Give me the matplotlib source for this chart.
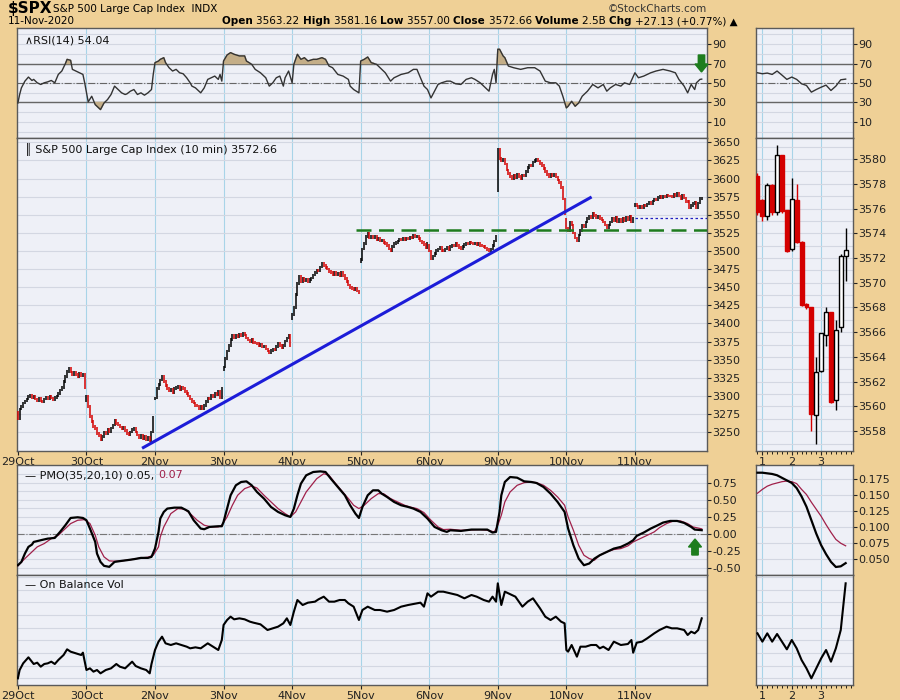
import matplotlib.pyplot as plt
import matplotlib.patches as mpatches
import numpy as np

# ---- 10-minute closes, one list per session (39 bars each) ----
c_29oct = [3268, 3282, 3285, 3290, 3293, 3296, 3299, 3301, 3298, 3300, 3296, 3294, 3297,
           3293, 3292, 3296, 3298, 3296, 3299, 3297, 3295, 3298, 3300, 3303, 3308, 3312,
           3320, 3327, 3334, 3338, 3333, 3330, 3333, 3330, 3327, 3331, 3328, 3330, 3312]
c_30oct = [3300, 3285, 3272, 3265, 3258, 3255, 3248, 3245, 3240, 3244, 3250, 3248, 3254,
           3251, 3256, 3260, 3266, 3262, 3260, 3257, 3255, 3257, 3252, 3248, 3246, 3250,
           3254, 3256, 3250, 3246, 3243, 3245, 3241, 3244, 3240, 3243, 3238, 3250, 3270]
c_2nov = [3297, 3310, 3316, 3322, 3327, 3320, 3314, 3310, 3307, 3309, 3305, 3310, 3312,
          3313, 3309, 3312, 3310, 3306, 3303, 3300, 3296, 3292, 3290, 3287, 3286, 3283,
          3285, 3282, 3287, 3292, 3297, 3296, 3301, 3299, 3304, 3302, 3306, 3298, 3310]
c_3nov = [3340, 3352, 3362, 3370, 3378, 3383, 3380, 3384, 3382, 3385, 3383, 3386, 3384,
          3380, 3377, 3375, 3378, 3374, 3373, 3372, 3370, 3371, 3368, 3369, 3365, 3362,
          3359, 3363, 3365, 3364, 3368, 3373, 3370, 3366, 3370, 3376, 3380, 3384, 3369]
c_4nov = [3412, 3422, 3440, 3455, 3465, 3458, 3462, 3459, 3461, 3458, 3461, 3463, 3467,
          3470, 3474, 3473, 3478, 3483, 3480, 3477, 3475, 3472, 3470, 3468, 3470, 3467,
          3469, 3466, 3470, 3466, 3462, 3458, 3453, 3450, 3448, 3446, 3449, 3445, 3443]
c_5nov = [3488, 3503, 3510, 3520, 3525, 3519, 3521, 3518, 3520, 3516, 3517, 3514, 3515,
          3512, 3510, 3508, 3503, 3501, 3506, 3510, 3512, 3514, 3516, 3515, 3517, 3516,
          3518, 3517, 3519, 3518, 3522, 3520, 3521, 3517, 3514, 3512, 3509, 3505, 3510]
c_6nov = [3500, 3490, 3493, 3497, 3501, 3503, 3505, 3501, 3500, 3503, 3505, 3502, 3506,
          3508, 3507, 3510, 3508, 3505, 3503, 3506, 3509, 3511, 3510, 3512, 3511, 3510,
          3511, 3509, 3510, 3508, 3507, 3506, 3504, 3502, 3500, 3503, 3508, 3514, 3520]
c_9nov = [3640, 3628, 3624, 3627, 3620, 3612, 3607, 3603, 3600, 3604, 3601, 3606, 3603,
          3600, 3605, 3604, 3610, 3615, 3619, 3618, 3623, 3625, 3627, 3624, 3621, 3618,
          3614, 3610, 3606, 3603, 3606, 3604, 3606, 3602, 3598, 3595, 3588, 3572, 3551]
c_10nov = [3532, 3528, 3540, 3536, 3525, 3518, 3514, 3522, 3528, 3535, 3533, 3540, 3545,
           3548, 3546, 3552, 3549, 3546, 3548, 3545, 3543, 3540, 3536, 3532, 3536, 3540,
           3545, 3542, 3546, 3541, 3544, 3540, 3545, 3542, 3546, 3543, 3548, 3541, 3545.5]
c_11nov = [3565, 3562, 3560, 3562, 3560, 3563, 3562, 3565, 3567, 3566, 3569, 3572, 3571,
           3574, 3575, 3574, 3576, 3575, 3577, 3576, 3575.7, 3575.4, 3577.9, 3575.7, 3580.3,
           3575.8, 3572.6, 3576.8, 3573.3, 3568.2, 3568.0, 3559.4, 3562.8, 3565.9, 3567.6,
           3560.4, 3566.2, 3572.2, 3572.66]
day_open = [3277.2, 3293.0, 3296.2, 3336.3, 3406.5, 3485.7, 3508.3, 3583.0, 3543.3, 3563.2]
day_labels = ['29Oct', '30Oct', '2Nov', '3Nov', '4Nov', '5Nov', '6Nov', '9Nov', '10Nov', '11Nov']

# ---- RSI(14) (bar index, value) ----
rsi_bar = [0, 1, 2, 4, 6, 8, 9, 11, 13, 15, 17, 19, 21, 23, 25, 27, 28, 30, 31, 33, 35, 37, 38,
           40, 42, 44, 45, 47, 49, 51, 53, 55, 57, 59, 61, 62, 64, 66, 68, 70, 72, 74, 76, 77,
           78, 80, 81, 83, 84, 86, 88, 90, 92, 94, 96, 98, 99, 101, 104, 106, 108, 110, 112,
           114, 115, 116, 117, 119, 121, 123, 126, 129, 130, 133, 135, 138, 141, 143, 145,
           147, 149, 151, 152, 154, 156, 157, 159, 161, 163, 165, 168, 170, 173, 175, 177,
           179, 182, 185, 188, 189, 191, 194, 195, 197, 199, 201, 204, 206, 209, 212, 214,
           218, 222, 225, 227, 229, 231, 233, 235, 237, 239, 241, 244, 246, 249, 252, 255,
           258, 260, 263, 266, 268, 270, 271, 272, 273, 274, 276, 277, 279, 282, 286, 290,
           294, 297, 300, 303, 306, 308, 310, 312, 313, 315, 317, 319, 321, 324, 327, 330,
           333, 335, 337, 340, 343, 345, 348, 351, 353, 356, 360, 363, 367, 371, 374, 376,
           379, 381, 383, 385, 386, 388, 389]
rsi_val = [29.5, 38.2, 45.0, 51.9, 56.1, 52.6, 53.7, 50.2, 48.5, 50.2, 51.2, 52.6, 50.2, 58.8,
           62.3, 69.8, 74.3, 73.3, 64.0, 62.3, 60.5, 58.8, 50.2, 30.6, 36.4, 27.8, 26.1, 22.7,
           29.5, 33.0, 38.2, 46.8, 43.3, 39.9, 38.2, 38.8, 41.6, 43.3, 38.2, 39.9, 37.5, 39.9,
           43.3, 58.8, 70.9, 72.6, 74.3, 76.0, 70.9, 65.7, 62.3, 64.0, 60.5, 59.5, 55.4, 50.2,
           46.8, 45.0, 39.9, 45.0, 53.7, 55.4, 57.1, 53.7, 58.8, 51.9, 72.6, 78.8, 81.2, 79.5,
           77.8, 77.8, 72.6, 69.2, 64.0, 60.5, 55.4, 46.8, 50.2, 55.4, 57.1, 46.8, 55.4, 62.3,
           50.2, 69.2, 79.5, 74.3, 76.0, 72.6, 74.3, 74.3, 76.0, 74.3, 67.4, 65.7, 58.8, 57.1,
           53.7, 46.8, 43.3, 39.9, 72.6, 74.3, 76.7, 70.9, 69.2, 65.7, 60.5, 51.9, 55.4, 58.8,
           60.5, 64.0, 64.0, 55.4, 46.8, 43.3, 34.7, 41.6, 48.5, 50.2, 51.9, 51.9, 49.2, 48.5,
           53.7, 55.4, 53.7, 50.2, 45.0, 41.6, 58.8, 64.0, 50.2, 84.7, 84.7, 77.8, 76.0, 67.4,
           65.7, 64.0, 65.7, 65.7, 62.3, 51.9, 50.2, 50.2, 46.8, 36.4, 24.4, 26.1, 31.3, 26.1,
           29.5, 36.4, 41.6, 48.5, 45.0, 48.5, 41.6, 45.0, 48.5, 46.8, 50.2, 48.5, 60.5, 55.4,
           57.1, 60.5, 62.3, 64.0, 62.3, 60.5, 53.7, 46.8, 39.9, 48.5, 43.3, 50.2, 53.7, 54.0]

# ---- PMO(35,20,10) line and signal ----
pmo_bar = [0, 2, 4, 6, 8, 9, 13, 17, 21, 24, 27, 30, 34, 37, 39, 41, 44, 45, 47, 49, 52, 55, 59,
           62, 66, 70, 74, 76, 78, 80, 81, 83, 85, 89, 93, 97, 100, 104, 106, 109, 114, 116,
           117, 119, 121, 124, 127, 130, 133, 136, 140, 144, 148, 152, 155, 157, 159, 161, 164,
           168, 172, 175, 178, 182, 186, 189, 192, 194, 196, 199, 202, 205, 207, 210, 214,
           218, 222, 225, 229, 233, 237, 241, 244, 246, 252, 258, 263, 267, 270, 272, 274,
           275, 277, 280, 284, 288, 292, 295, 299, 303, 307, 311, 313, 316, 319, 322, 325,
           328, 331, 335, 339, 343, 347, 350, 352, 356, 360, 364, 367, 371, 375, 379, 383,
           385, 389]
pmo_val = [-0.466, -0.417, -0.294, -0.196, -0.162, -0.123, -0.098, -0.074, -0.064, 0.025, 0.123,
           0.230, 0.240, 0.230, 0.196, 0.074, -0.123, -0.294, -0.417, -0.475, -0.490, -0.417,
           -0.402, -0.392, -0.377, -0.358, -0.358, -0.343, -0.221, 0.025, 0.221, 0.319, 0.368,
           0.382, 0.382, 0.328, 0.196, 0.074, 0.064, 0.098, 0.108, 0.108, 0.172, 0.368, 0.564,
           0.711, 0.760, 0.769, 0.711, 0.613, 0.515, 0.392, 0.319, 0.270, 0.245, 0.368, 0.564,
           0.735, 0.858, 0.907, 0.916, 0.907, 0.809, 0.686, 0.564, 0.417, 0.294, 0.230, 0.392,
           0.564, 0.637, 0.637, 0.588, 0.539, 0.466, 0.417, 0.392, 0.368, 0.319, 0.221, 0.098,
           0.049, 0.025, 0.049, 0.039, 0.059, 0.059, 0.059, 0.015, 0.025, 0.319, 0.564, 0.760,
           0.833, 0.823, 0.769, 0.760, 0.745, 0.686, 0.588, 0.466, 0.319, 0.074, -0.172, -0.368,
           -0.466, -0.441, -0.368, -0.319, -0.270, -0.221, -0.196, -0.147, -0.098, -0.034,
           0.015, 0.074, 0.123, 0.162, 0.186, 0.186, 0.157, 0.098, 0.059, 0.05]
sig_bar = [0, 4, 8, 11, 15, 19, 23, 27, 30, 34, 38, 41, 44, 46, 49, 52, 55, 59, 62, 66, 70, 74,
           77, 80, 81, 83, 87, 91, 95, 98, 102, 106, 110, 114, 116, 119, 122, 125, 129, 133,
           136, 140, 144, 148, 152, 155, 158, 161, 164, 167, 170, 174, 177, 180, 184, 188, 191,
           194, 197, 201, 205, 208, 212, 216, 220, 223, 227, 231, 235, 239, 242, 246, 252, 258,
           263, 267, 271, 273, 275, 277, 280, 284, 288, 292, 295, 299, 303, 307, 311, 313, 316,
           319, 322, 325, 328, 331, 335, 339, 343, 347, 350, 354, 358, 362, 365, 369, 373, 377,
           381, 384, 389]
sig_val = [-0.475, -0.368, -0.270, -0.196, -0.147, -0.074, -0.025, 0.074, 0.147, 0.196, 0.206,
           0.147, -0.025, -0.196, -0.343, -0.402, -0.407, -0.402, -0.392, -0.377, -0.358,
           -0.348, -0.319, -0.196, -0.049, 0.098, 0.294, 0.368, 0.358, 0.294, 0.196, 0.123,
           0.098, 0.098, 0.123, 0.245, 0.417, 0.564, 0.662, 0.701, 0.671, 0.564, 0.466, 0.368,
           0.294, 0.245, 0.319, 0.466, 0.613, 0.711, 0.809, 0.882, 0.858, 0.760, 0.637, 0.515,
           0.417, 0.368, 0.417, 0.515, 0.588, 0.588, 0.515, 0.466, 0.417, 0.392, 0.368, 0.309,
           0.196, 0.098, 0.059, 0.064, 0.049, 0.054, 0.059, 0.049, 0.025, 0.123, 0.270, 0.466,
           0.613, 0.711, 0.750, 0.760, 0.750, 0.711, 0.637, 0.539, 0.417, 0.245, 0.049, -0.172,
           -0.319, -0.368, -0.392, -0.319, -0.270, -0.235, -0.221, -0.181, -0.123, -0.074,
           -0.025, 0.025, 0.088, 0.147, 0.186, 0.186, 0.147, 0.098, 0.07]

# ---- On Balance Volume (relative units, no scale shown) ----
obv_bar = [0, 1, 3, 6, 8, 9, 11, 13, 15, 17, 19, 21, 23, 26, 28, 30, 33, 36, 37, 39, 41, 43, 45,
           47, 50, 53, 56, 58, 61, 62, 65, 67, 70, 73, 75, 76, 78, 80, 82, 84, 87, 90, 93, 96,
           98, 101, 104, 108, 111, 114, 116, 117, 119, 121, 123, 126, 129, 132, 134, 138, 142,
           145, 148, 151, 153, 155, 157, 159, 162, 165, 169, 171, 174, 177, 180, 183, 186, 188,
           191, 194, 196, 199, 203, 206, 210, 214, 218, 222, 225, 229, 231, 233, 235, 239, 242,
           246, 250, 254, 258, 261, 265, 268, 270, 272, 273, 275, 277, 279, 283, 287, 290, 293,
           297, 300, 303, 306, 309, 311, 312, 313, 315, 318, 320, 323, 326, 329, 331, 333, 336,
           339, 343, 347, 349, 350, 352, 355, 358, 362, 365, 369, 372, 375, 379, 381, 383, 385,
           387, 389]
obv_val = [45, 70, 90, 108, 95, 88, 92, 80, 88, 90, 95, 88, 100, 115, 132, 125, 120, 115, 122, 70,
           75, 65, 70, 60, 70, 75, 88, 80, 75, 80, 95, 82, 75, 70, 60, 88, 130, 155, 170, 150,
           145, 150, 145, 140, 135, 138, 135, 150, 140, 130, 160, 205, 220, 230, 222, 225, 222,
           215, 212, 207, 190, 195, 200, 210, 225, 205, 245, 280, 265, 272, 275, 282, 290, 275,
           275, 280, 280, 270, 260, 220, 250, 260, 250, 250, 245, 250, 260, 265, 268, 272, 260,
           300, 290, 305, 305, 300, 295, 285, 295, 290, 280, 275, 290, 275, 330, 265, 305, 300,
           290, 260, 275, 285, 255, 230, 220, 230, 215, 210, 130, 125, 145, 110, 140, 140, 145,
           145, 135, 140, 130, 155, 145, 148, 160, 122, 152, 155, 165, 180, 190, 200, 195, 195,
           190, 175, 185, 180, 190, 225]

# ---- last 19 ten-minute candles of 11-Nov (12:50 - 15:50) ----
k_open = [3578.6, 3576.7, 3575.4, 3577.9, 3575.7, 3580.3, 3575.9, 3572.7, 3576.7, 3573.3,
          3568.3, 3568.0, 3559.3, 3562.9, 3565.8, 3567.6, 3560.5, 3566.4, 3572.2]
k_high = [3578.9, 3576.8, 3578.1, 3578.0, 3581.16, 3580.3, 3575.9, 3578.5, 3578.0, 3573.4,
          3568.4, 3568.0, 3564.0, 3565.9, 3568.0, 3567.6, 3567.0, 3572.3, 3574.4]
k_low = [3575.5, 3575.0, 3575.1, 3575.5, 3575.5, 3575.6, 3572.5, 3572.6, 3573.2, 3568.1,
         3567.9, 3558.0, 3557.0, 3562.8, 3564.9, 3560.3, 3559.7, 3566.0, 3570.15]
k_close = [3575.7, 3575.4, 3577.9, 3575.7, 3580.3, 3575.8, 3572.6, 3576.8, 3573.3, 3568.2,
           3568.0, 3559.4, 3562.8, 3565.9, 3567.6, 3560.4, 3566.2, 3572.2, 3572.66]
k_labels = ['1', '2', '3']
k_rsi = [60.5, 59.5, 60.2, 58.8, 62.3, 58.1, 53.7, 56.1, 53.7, 49.2, 47.5, 40.6, 43.3, 45.7,
         47.8, 42.3, 46.8, 53.3, 54.0]
k_pmo = [0.185, 0.185, 0.184, 0.183, 0.181, 0.177, 0.173, 0.169, 0.161, 0.148, 0.132, 0.111,
         0.090, 0.072, 0.058, 0.046, 0.038, 0.039, 0.044]
k_sig = [0.153, 0.159, 0.164, 0.167, 0.169, 0.171, 0.172, 0.171, 0.168, 0.159, 0.151, 0.139,
         0.128, 0.117, 0.104, 0.092, 0.081, 0.075, 0.071]
k_obv = [180, 155, 180, 155, 178, 155, 132, 160, 135, 100, 75, 45, 75, 105, 130, 95, 135, 190, 330]

# annotation levels drawn on the price panel
support = 3529
prev_close = 3545.5
trend_a = (71.4, 3228.8)
trend_b = (325.6, 3573.6)
green_start = 192.6

TAN = '#EFD096'
PANEL = '#EEF0F7'
GRID = '#D3D7E2'
VGRID = '#A8D4E8'
EDGE = '#5A5A5A'
RED = '#D40000'
MAROON = '#A0204A'
BARS_PER_DAY = 39
BAR_PAD = 1.8   # visual half-range added to each bar

plt.rcParams['font.family'] = ['DejaVu Sans']
fig = plt.figure(figsize=(9, 7), dpi=100, facecolor=TAN)
W, H = 900, 700


def add_panel(x0, y0, x1, y1):
    """Axes placed by pixel box (top-left origin)"""
    ax = fig.add_axes([x0 / W, 1 - y1 / H, (x1 - x0) / W, (y1 - y0) / H], facecolor=PANEL)
    for s in ax.spines.values():
        s.set_color(EDGE)
        s.set_linewidth(1)
    ax.yaxis.tick_right()
    ax.tick_params(axis='both', direction='out', length=3, labelsize=8, pad=1,
                   colors='#222222', width=0.8)
    return ax


def hgrid(ax, levels):
    for v in levels:
        ax.axhline(v, color=GRID, lw=0.8, zorder=0)


LX0, LX1, RX0, RX1 = 17, 707, 756, 853
ax_rsi = add_panel(LX0, 28, LX1, 138)
ax_px = add_panel(LX0, 138, LX1, 451)
ax_pmo = add_panel(LX0, 465, LX1, 575)
ax_obv = add_panel(LX0, 575, LX1, 685)
bx_rsi = add_panel(RX0, 28, RX1, 138)
bx_px = add_panel(RX0, 138, RX1, 451)
bx_pmo = add_panel(RX0, 465, RX1, 575)
bx_obv = add_panel(RX0, 575, RX1, 685)

closes = np.concatenate([c_29oct, c_30oct, c_2nov, c_3nov, c_4nov, c_5nov, c_6nov,
                         c_9nov, c_10nov, c_11nov]).astype(float)
n = len(closes)
xb = np.arange(n)
day_starts = np.arange(0, n, BARS_PER_DAY)
xlim = (-0.5, 392)
klim = (-0.3, 19.5)
kx = np.arange(len(k_close))
k_ticks = [1, 7, 13]

# day / hour grid lines
for ax in (ax_rsi, ax_px, ax_pmo, ax_obv):
    ax.set_xlim(*xlim)
    ax.set_xticks(day_starts)
    for d in day_starts[1:]:
        ax.axvline(d, color=VGRID, lw=0.8, zorder=0)
for ax in (bx_rsi, bx_px, bx_pmo, bx_obv):
    ax.set_xlim(*klim)
    ax.set_xticks(k_ticks)
    ax.set_xticks(np.arange(0, 20), minor=True)
    ax.tick_params(axis='x', which='minor', length=2, direction='out')
    for d in k_ticks:
        ax.axvline(d, color=VGRID, lw=0.8, zorder=0)

# ---- RSI ----
for ax, xs, ys in ((ax_rsi, rsi_bar, rsi_val), (bx_rsi, kx, k_rsi)):
    xs = np.asarray(xs, float)
    ys = np.asarray(ys, float)
    ax.set_ylim(-6.5, 106.5)
    ax.set_yticks([10, 30, 50, 70, 90])
    hgrid(ax, np.arange(0, 101, 10))
    ax.axhline(70, color='#666666', lw=1, zorder=1)
    ax.axhline(30, color='#666666', lw=1, zorder=1)
    ax.axhline(50, color='#666666', lw=0.8, ls='-.', zorder=1)
    ax.fill_between(xs, ys, 70, where=ys > 70, interpolate=True, color='#C4AE88', zorder=2)
    ax.fill_between(xs, ys, 30, where=ys < 30, interpolate=True, color='#C4AE88', zorder=2)
    ax.plot(xs, ys, color='#333333', lw=1, zorder=3)
    ax.tick_params(axis='x', labelbottom=False, length=0, which='both')
ax_rsi.text(0.012, 0.93, '\u2227RSI(14) 54.04', transform=ax_rsi.transAxes, fontsize=8,
            va='top', color='#111111')

# ---- price bars ----
ax_px.set_ylim(3224, 3656)
ax_px.set_yticks(np.arange(3250, 3651, 25))
hgrid(ax_px, np.arange(3250, 3651, 25))
prev = np.empty(n)
prev[1:] = closes[:-1]
prev[day_starts] = day_open
lo = np.minimum(prev, closes) - BAR_PAD
hi = np.maximum(prev, closes) + BAR_PAD
up = closes >= prev
ax_px.vlines(xb[up], lo[up], hi[up], color='black', lw=1.1, zorder=3)
ax_px.vlines(xb[~up], lo[~up], hi[~up], color=RED, lw=1.1, zorder=3)
ax_px.plot([trend_a[0], trend_b[0]], [trend_a[1], trend_b[1]], color='#1C1CD8', lw=2.2, zorder=4)
ax_px.plot([green_start, xlim[1]], [support, support], color='#1E7B1E', lw=1.8,
           dashes=(6, 3), zorder=4)
ax_px.plot([day_starts[-1], xlim[1]], [prev_close, prev_close], color='#2020C0', lw=0.9,
           dashes=(2, 2), zorder=4)
ax_px.set_xticklabels(day_labels)
ax_px.text(0.012, 0.985, '\u2551 S&P 500 Large Cap Index (10 min) 3572.66',
           transform=ax_px.transAxes, fontsize=8, va='top', color='#111111')

# right candles
bx_px.set_ylim(3556.4, 3581.7)
bx_px.set_yticks(np.arange(3558, 3581, 2))
hgrid(bx_px, np.arange(3557, 3582, 1))
for i in range(len(k_close)):
    rising = k_close[i] >= k_open[i]
    col = 'black' if rising else RED
    bx_px.vlines(kx[i], k_low[i], k_high[i], color=col, lw=1, zorder=3)
    b0 = min(k_open[i], k_close[i])
    bh = max(abs(k_close[i] - k_open[i]), 0.12)
    bx_px.add_patch(mpatches.Rectangle((kx[i] - 0.4, b0), 0.8, bh,
                                       facecolor='white' if rising else RED,
                                       edgecolor=col, lw=1, zorder=4))
bx_px.set_xticklabels(k_labels)

# ---- PMO ----
ax_pmo.set_ylim(-0.61, 1.01)
ax_pmo.set_yticks([-0.5, -0.25, 0, 0.25, 0.5, 0.75])
ax_pmo.set_yticklabels(['-0.50', '-0.25', '0.00', '0.25', '0.50', '0.75'])
hgrid(ax_pmo, np.arange(-0.5, 1.0, 0.125))
ax_pmo.axhline(0, color='#777777', lw=0.8, ls='-.', zorder=1)
ax_pmo.plot(sig_bar, sig_val, color=MAROON, lw=0.9, zorder=3)
ax_pmo.plot(pmo_bar, pmo_val, color='black', lw=1.6, zorder=4)
ax_pmo.tick_params(axis='x', labelbottom=False, length=0)
t = ax_pmo.text(0.012, 0.95, '\u2014 PMO(35,20,10) 0.05, ', transform=ax_pmo.transAxes,
                fontsize=8, va='top', color='#111111')
ax_pmo.annotate('0.07', xycoords=t, xy=(1, 0), va='bottom', fontsize=8, color=MAROON)

bx_pmo.set_ylim(0.0255, 0.197)
bx_pmo.set_yticks([0.05, 0.075, 0.1, 0.125, 0.15, 0.175])
bx_pmo.set_yticklabels(['0.050', '0.075', '0.100', '0.125', '0.150', '0.175'])
hgrid(bx_pmo, np.arange(0.05, 0.19, 0.025))
bx_pmo.plot(kx, k_sig, color=MAROON, lw=0.9, zorder=3)
bx_pmo.plot(kx, k_pmo, color='black', lw=1.6, zorder=4)
bx_pmo.tick_params(axis='x', labelbottom=False, length=0, which='both')

# ---- OBV ----
for ax, xs, ys in ((ax_obv, obv_bar, obv_val), (bx_obv, kx, k_obv)):
    ax.set_ylim(25, 355)
    ax.set_yticks([])
    hgrid(ax, np.arange(45, 355, 38))
    ax.plot(xs, ys, color='black', lw=1.5, zorder=3)
ax_obv.set_xticklabels(day_labels)
bx_obv.set_xticklabels(k_labels)
ax_obv.text(0.012, 0.95, '\u2014 On Balance Vol', transform=ax_obv.transAxes, fontsize=8,
            va='top', color='#111111')


def block_arrow(cx, ytop, ybot, pointing_up):
    """Green signal arrow, given in figure pixels"""
    hw, sw, hl = 6.5, 3.2, 8
    if pointing_up:
        tip, base, neck = ytop, ybot, ytop + hl
    else:
        tip, base, neck = ybot, ytop, ybot - hl
    pts = [(cx - sw, base), (cx + sw, base), (cx + sw, neck), (cx + hw, neck), (cx, tip),
           (cx - hw, neck), (cx - sw, neck)]
    pts = [(px / W, 1 - py / H) for px, py in pts]
    fig.patches.append(mpatches.Polygon(pts, closed=True, facecolor='#1E7D1E',
                                        edgecolor='#1E7D1E', transform=fig.transFigure,
                                        zorder=10))


block_arrow(701.5, 55, 72, False)
block_arrow(695, 539, 555, True)

# ---- header ----
fig.text(8 / W, 1 - 9 / H, '$SPX', fontsize=11, fontweight='bold', va='center')
fig.text(53 / W, 1 - 9 / H, 'S&P 500 Large Cap Index  INDX', fontsize=7.5, va='center')
fig.text(8 / W, 1 - 21 / H, '11-Nov-2020', fontsize=7.5, va='center')
fig.text(707 / W, 1 - 9 / H, '\u00a9StockCharts.com', fontsize=7.5, va='center', ha='right',
         color='#333333')

# quote line: bold field names followed by plain values, chained left to right
hdr = [('Open ', True), ('3563.22 ', False), ('High ', True), ('3581.16 ', False),
       ('Low ', True), ('3557.00 ', False), ('Close ', True), ('3572.66 ', False),
       ('Volume ', True), ('2.5B ', False), ('Chg ', True), ('+27.13 (+0.77%) \u25b2', False)]
anchor = fig.text(222 / W, 1 - 21 / H, hdr[0][0], fontsize=7.5, va='center', fontweight='bold')
for s, bold in hdr[1:]:
    anchor = ax_rsi.annotate(s, xycoords=anchor, xy=(1, 0.5), va='center', ha='left',
                             fontsize=7.5, fontweight='bold' if bold else 'normal',
                             annotation_clip=False)

fig.savefig('out.png', dpi=100, facecolor=TAN)
